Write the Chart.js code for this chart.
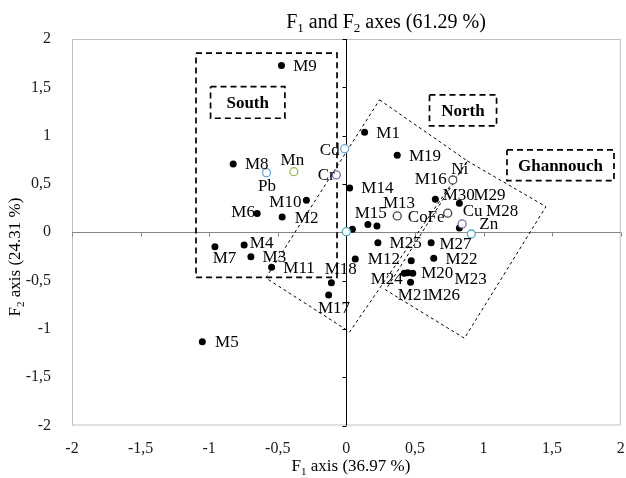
<!DOCTYPE html>
<html><head><meta charset="utf-8">
<script src="https://cdn.jsdelivr.net/npm/chart.js@4.4.1/dist/chart.umd.min.js"></script>
<style>html,body{margin:0;padding:0;background:#fff}#wrap{width:626px;height:478px}</style>
</head><body><div id="wrap"><canvas id="c" width="626" height="478"></canvas></div>
<script>
// ---- data ----
const siteNames = ['M1','M2','M3','M4','M5','M6','M7','M8','M9','M10','M11','M12','M13','M14','M15','M16','M17','M18','M19','M20','M21','M22','M23','M24','M25','M26','M27','M28','M29','M30'];
const siteF1 = [0.133,-0.468,-0.696,-0.745,-1.050,-0.650,-0.958,-0.825,-0.473,-0.291,-0.545,0.065,0.157,0.024,0.044,0.223,-0.129,-0.109,0.371,0.484,0.468,0.637,0.473,0.422,0.230,0.448,0.618,0.824,0.824,0.649];
const siteF2 = [1.035,0.158,-0.253,-0.131,-1.133,0.193,-0.149,0.707,1.725,0.331,-0.362,-0.276,0.079,0.459,0.031,0.065,-0.649,-0.522,0.797,-0.424,-0.518,-0.269,-0.294,-0.424,-0.108,-0.418,-0.108,0.045,0.300,0.342];
const varNames = ['Cd','Cr','Pb','Mn','Ni','Co','Fe','Cu','Zn',''];
const varF1 = [-0.012,-0.073,-0.582,-0.383,0.776,0.371,0.739,0.844,0.911,0.000];
const varF2 = [0.865,0.593,0.617,0.627,0.541,0.169,0.197,0.086,-0.018,0.006];
const tickValues = [-2,-1.5,-1,-0.5,0,0.5,1,1.5,2];
const regionNames = ['South','North','Ghannouch'];
// annotation shapes in data space
const southZone = [[-1.096,1.853],[-0.068,1.853],[-0.068,-0.466],[-1.096,-0.466]];
const northZone = [[0.242,1.370],[0.882,0.738],[0.024,-1.031],[-0.587,-0.473]];
const ghannouchZone = [[0.882,0.738],[1.455,0.265],[0.861,-1.097],[0.286,-0.597]];
const regionBoxes = [[-0.990,1.507,-0.448,1.180],[0.606,1.421,1.095,1.100],[1.171,0.852,1.951,0.534]];

// ---- styles / label layout ----
const varColors = ['#6aa6da','#7a68b0','#6aa6da','#9bbb59','#555555','#444444','#444444','#7a68b0','#4bacc6','#4bacc6'];
const DEF = [11.7, 1];
const labelOffsets = {
  M2:[12.7,2], M4:[5.7,-1.7], M5:[12.7,0.6], M6:[-2.3,-1,'r'], M7:[-2.3,11.6], M10:[-5,2,'r'],
  M12:[12.6,1], M13:[15,-21.4], M15:[2.3,-16], M16:[37.7,-46], M17:[-10.7,13.3], M18:[-6.7,-13.4],
  M20:[8.4,0], M21:[-12.7,13.7], M23:[43.3,18.6], M24:[-1.4,6,'r'], M26:[20,23.3], M27:[8.3,2.3],
  M28:[26.7,-16.3], M29:[14,-7.3], M30:[7.3,-3.3],
  Cd:[-5,2,'r'], Cr:[-1.7,1,'r'], Pb:[-8.4,14], Mn:[-13.3,-11], Ni:[-1.6,-10], Co:[10.6,1.7],
  Fe:[-3.3,4.4,'r'], Cu:[0.6,-12.3], Zn:[8,-9]
};
const SERIF = '"Liberation Serif","Times New Roman",serif';

const pts = (xs, ys) => xs.map((x,i)=>({x, y: ys[i]}));
const closed = arr => arr.concat([arr[0]]).map(p=>({x:p[0], y:p[1]}));
const rectPts = b => closed([[b[0],b[1]],[b[2],b[1]],[b[2],b[3]],[b[0],b[3]]]);
const fmt = v => String(v).replace('.', ',');

function shapeDs(data, dash, width){
  return {data, showLine:true, borderColor:'#000', borderWidth:width, borderDash:dash,
    pointRadius:0, pointHoverRadius:0, fill:false, tension:0, order:10};
}

const datasets = [
  {label:'sites', data: pts(siteF1, siteF2), pointRadius:3.5, pointBackgroundColor:'#000', pointBorderColor:'#000', pointBorderWidth:0, showLine:false, order:1},
  {label:'variables', data: pts(varF1, varF2), pointRadius:4, pointBackgroundColor:'#fff', pointBorderColor:varColors, pointBorderWidth:1.3, showLine:false, order:0},
  shapeDs(closed(southZone), [6,4], 1.7),
  shapeDs(closed(northZone), [3,3], 1),
  shapeDs(closed(ghannouchZone), [3,3], 1),
  ...regionBoxes.map(b => shapeDs(rectPts(b), [6,4], 1.7))
];

function drawParts(ctx, parts, size, cx, baseY){
  const sub = Math.round(size*0.65);
  let total = 0;
  const w = parts.map(p => { ctx.font = (p[1]? sub: size)+'px '+SERIF; const m = ctx.measureText(p[0]).width; total += m; return m; });
  let x = cx - total/2;
  ctx.textAlign = 'left'; ctx.textBaseline = 'alphabetic';
  parts.forEach((p,i)=>{ ctx.font = (p[1]? sub: size)+'px '+SERIF; ctx.fillText(p[0], x, baseY + (p[1]? size*0.22:0)); x += w[i]; });
}

const axesPlugin = {
  id:'axesDecor',
  beforeDatasetsDraw(chart){
    const {ctx, chartArea:a, scales:{x, y}} = chart;
    ctx.save();
    ctx.strokeStyle = '#bfbfbf'; ctx.lineWidth = 1;
    ctx.strokeRect(a.left+0.5, a.top+0.5, a.right-a.left-1, a.bottom-a.top-1);
    const y0 = Math.round(y.getPixelForValue(0))+0.5, x0 = Math.round(x.getPixelForValue(0))+0.5;
    ctx.strokeStyle = '#868686';
    ctx.beginPath(); ctx.moveTo(a.left, y0); ctx.lineTo(a.right, y0);
    tickValues.forEach(v=>{ const px = Math.round(x.getPixelForValue(v))+0.5; ctx.moveTo(px, y0); ctx.lineTo(px, y0+4); });
    ctx.stroke();
    ctx.strokeStyle = '#000';
    ctx.beginPath(); ctx.moveTo(x0, a.top); ctx.lineTo(x0, a.bottom);
    tickValues.forEach(v=>{ const py = Math.round(y.getPixelForValue(v))+0.5; ctx.moveTo(x0, py); ctx.lineTo(x0-4, py); });
    ctx.stroke();
    ctx.restore();
  },
  afterDatasetsDraw(chart){
    const {ctx, scales:{x, y}} = chart;
    ctx.save();
    ctx.fillStyle = '#000';
    ctx.textBaseline = 'middle';
    ctx.font = '17px '+SERIF;
    const put = (dsIndex, names) => {
      chart.getDatasetMeta(dsIndex).data.forEach((el,i)=>{
        const n = names[i]; if(!n) return;
        const o = labelOffsets[n] || DEF;
        ctx.textAlign = o[2]==='r' ? 'right' : 'left';
        ctx.fillText(n, el.x + o[0], el.y + o[1]);
      });
    };
    put(0, siteNames);
    put(1, varNames);
    // region names
    ctx.font = 'bold 17px '+SERIF; ctx.textAlign = 'center';
    regionBoxes.forEach((b,i)=>{
      const cx = x.getPixelForValue((b[0]+b[2])/2), cy = y.getPixelForValue((b[1]+b[3])/2);
      ctx.fillText(regionNames[i], cx, cy+1);
    });
    // titles
    drawParts(ctx, [['F',0],['1',1],[' and F',0],['2',1],[' axes (61.29 %)',0]], 20, 386, 28);
    drawParts(ctx, [['F',0],['1',1],[' axis (36.97 %)',0]], 17, 351, 471);
    ctx.translate(20, 257); ctx.rotate(-Math.PI/2);
    drawParts(ctx, [['F',0],['2',1],[' axis (24.31 %)',0]], 17, 0, 0);
    ctx.restore();
  }
};

const hiddenGrid = (len) => ({display:true, drawOnChartArea:false, drawTicks:true, tickLength:len, color:'rgba(0,0,0,0)', tickColor:'rgba(0,0,0,0)'});
const tickFont = {family:SERIF, size:16};

new Chart(document.getElementById('c'), {
  type:'scatter',
  data:{datasets},
  options:{
    responsive:false, animation:false, devicePixelRatio:1,
    layout:{padding:{left:0, right:4, top:39, bottom:0}},
    plugins:{legend:{display:false}, tooltip:{enabled:false}, title:{display:false}},
    scales:{
      x:{type:'linear', min:-2, max:2, position:'bottom', grid:hiddenGrid(14), border:{display:false},
         ticks:{stepSize:0.5, padding:0, maxRotation:0, autoSkip:false, color:'#1a1a1a', font:tickFont, callback: v => fmt(v)},
         afterFit: s => { s.height = 52.5; }},
      y:{type:'linear', min:-2, max:2, position:'left', grid:hiddenGrid(21), border:{display:false},
         ticks:{stepSize:0.5, padding:0, autoSkip:false, color:'#1a1a1a', font:tickFont, callback: v => fmt(v)},
         afterFit: s => { s.width = 72; }}
    }
  },
  plugins:[axesPlugin]
});
</script></body></html>
